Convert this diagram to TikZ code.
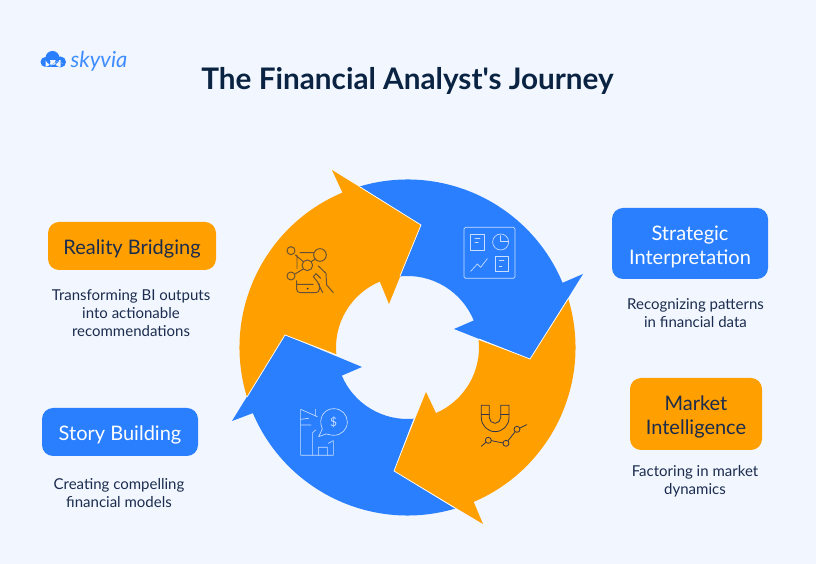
\documentclass[tikz,border=0pt]{standalone}
\usepackage{fontspec}
\usetikzlibrary{calc}
\setmainfont{Lato}
\newfontfamily\titlefont{Lato}
\definecolor{bgc}{HTML}{F2F7FF}
\definecolor{bluec}{HTML}{2A7FFF}
\definecolor{orangec}{HTML}{FF9F00}
\definecolor{navyc}{HTML}{0A2342}
\definecolor{textc}{HTML}{1B2C4E}
\definecolor{icondark}{HTML}{33354A}
\newcommand{\lowerby}{\rule{0pt}{21pt}}
\tikzset{
  box/.style={rounded corners=11pt,minimum height=48pt,align=center,inner sep=0pt,text=textc,font=\fontsize{20}{24}\selectfont},
  orangebox/.style={box,fill=orangec},
  bluebox/.style={box,fill=bluec,text=white},
  desc/.style={align=center,text=textc,inner sep=0pt,font=\fontsize{15}{18}\selectfont},
  edgeline/.style={white,line width=0.7pt},
  iconlight/.style={draw=white!75!bluec,line width=0.65pt,line cap=round,line join=round},
  icondk/.style={draw=icondark,line width=0.8pt,line cap=round,line join=round},
  iconmid/.style={draw=icondark!75!orangec,line width=0.95pt,line cap=round,line join=round},
}
\begin{document}
\begin{tikzpicture}[x=1pt,y=1pt]
\useasboundingbox (0,0) rectangle (816,564);
\fill[bgc] (0,0) rectangle (816,564);
\coordinate (c) at (407.5,216.5);
% ring arrows
\fill[bluec] ($(c)+(106.5:168)$) arc[start angle=106.5,end angle=22.66,radius=168]
  -- (583,290) -- (530,205) -- (454,235) -- ($(c)+(22.2:71.5)$)
  arc[start angle=22.2,end angle=96,radius=71.5] -- (421,339) -- cycle;
\fill[orangec] ($(c)+(16.8:168)$) arc[start angle=16.8,end angle=-66.8,radius=168]
  -- (483,40) -- (394,93) -- (426,172) -- ($(c)+(-66.5:71.5)$)
  arc[start angle=-66.5,end angle=6,radius=71.5] -- (530,205) -- cycle;
\fill[bluec] ($(c)+(-84.8:71.5)$) arc[start angle=-84.8,end angle=-156.8,radius=71.5]
  -- (362,197) -- (285,229) -- (232,143) -- ($(c)+(203:168)$)
  arc[start angle=203,end angle=286.5,radius=168] -- (394,93) -- cycle;
\fill[orangec] ($(c)+(197.1:168)$) arc[start angle=197.1,end angle=112.8,radius=168]
  -- (332,394) -- (421,339) -- (389,260) -- ($(c)+(112.8:71.5)$)
  arc[start angle=112.8,end angle=186,radius=71.5] -- (285,229) -- cycle;
% thin separators
\draw[edgeline] (360,377) -- (421,339) -- (400,288);
\draw[edgeline] (568,265) -- (530,205) -- (479,225);
\draw[edgeline] (455,56) -- (394,93) -- (414,145);
\draw[edgeline] (247,167) -- (285,229) -- (337,209);
% title and logo
\node[font=\fontsize{29.7}{34}\titlefont\bfseries,text=navyc,inner sep=0pt] (title) at (407.5,483) {The Financial Analyst's Journey};
\node[font=\fontsize{22}{24}\selectfont\itshape,text=bluec!90!white,inner sep=0pt] (logo) at (99,502.5) {skyvia};
% cloud
\fill[bluec] (45.5,502) circle (5) (52.5,506) circle (7) (60.5,502) circle (5.5) (45.5,497) rectangle (60.5,504);
\draw[bluec!55!white,line width=0.5pt] (50.5,497.5) .. controls (55,503) and (59,504) .. (63,500);
% boxes
\node[orangebox,minimum width=168pt] (b1) at (132,318) {\lowerby Reality Bridging};
\node[bluebox,minimum width=156pt] (b2) at (120,132) {\lowerby Story Building};
\node[bluebox,minimum width=156pt,minimum height=71pt] (b3) at (690,320.5) {\lowerby Strategic\\Interpretation};
\node[orangebox,minimum width=132pt,minimum height=72pt] (b4) at (696,150) {\lowerby Market\\Intelligence};
\node[desc] (d1) at (131,251) {Transforming BI outputs\\into actionable\\recommendations};
\node[desc] (d2) at (119,71) {Creating compelling\\financial models};
\node[desc] (d3) at (695.5,251) {Recognizing patterns\\in financial data};
\node[desc] (d4) at (695,83) {Factoring in market\\dynamics};
% icon: network and phone
\begin{scope}[shift={(230,404)},x=0.3333pt,y=-0.3333pt]
\draw[iconmid] (183,272) circle (12) (183,348) circle (12) (232,316) circle (16) (270,285) circle (19);
\draw[iconmid] (196,285)--(220,305) (195,342)--(218,328) (243,305)--(257,297)
  (210,278)--(252,278) (201,285)--(201,325)
  (200,362)--(200,388) to[out=-90,in=180] (210,398)--(258,398) to[out=0,in=-90] (268,388)--(268,372)
  (200,373)--(250,373)
  (265,318)--(288,340)--(290,375)--(310,398)
  (250,350)--(258,341)--(272,355) (250,350)--(262,365)--(278,398);
\fill[navyc] (233,386) circle (2.7);
\end{scope}
% icon: dashboard
\begin{scope}[shift={(400,394)},x=0.3333pt,y=-0.3333pt]
\draw[iconlight,rounded corners=1.5pt] (192,172) rectangle (345,325);
\draw[iconlight] (212,192) rectangle (253,240) (225,204)--(240,204) (225,218)--(235,218);
\draw[iconlight] (302,216) circle (24);
\draw[iconlight] (302,197)--(302,214)--(326,214);
\draw[iconlight] (212,304)--(232,282)--(242,292)--(262,266);
\draw[iconlight] (285,258) rectangle (326,305) (298,272)--(312,272) (298,290)--(306,290);
\end{scope}
% icon: magnet
\begin{scope}[shift={(390,224)},x=0.3333pt,y=-0.3333pt]
\draw[icondk] (274,196)--(274,233) to[out=-90,in=180] (315.5,275) to[out=0,in=-90] (357,233)--(357,196)--(332,196)--(332,233)
  to[out=-90,in=0] (315,250) to[out=180,in=-90] (298,233)--(298,196)--cycle;
\draw[icondk] (274,222)--(298,222) (332,222)--(357,222);
\draw[icondk] (295,301) circle (9) (348,310) circle (9) (381,268) circle (9);
\draw[icondk] (274,319)--(288,307) (304,302)--(339,309) (354,302)--(375,276) (390,264)--(410,254);
\end{scope}
% icon: building and speech bubble
\begin{scope}[shift={(230,234)},x=0.3333pt,y=-0.3333pt]
\draw[iconlight] (262,260)--(212,238)--(212,376)--(310,376)--(310,332)--(295,340);
\draw[iconlight] (257,238)--(257,258) (212,268)--(236,265) (212,285)--(243,285)
  (248,376)--(248,308)--(257,300) (265,376)--(265,352)--(292,352)--(292,376);
\draw[iconlight] (277,297) .. controls (262,262) and (285,236) .. (311,236)
  .. controls (336,236) and (352,255) .. (352,276) .. controls (352,298) and (335,316) .. (311,316)
  .. controls (303,316) and (295,313) .. (288,312) -- (266,320) -- cycle;
\node[text=white!75!bluec,font=\fontsize{12}{12}\selectfont,inner sep=0pt] (dollar) at (311,276) {\$};
\end{scope}
\end{tikzpicture}
\end{document}
